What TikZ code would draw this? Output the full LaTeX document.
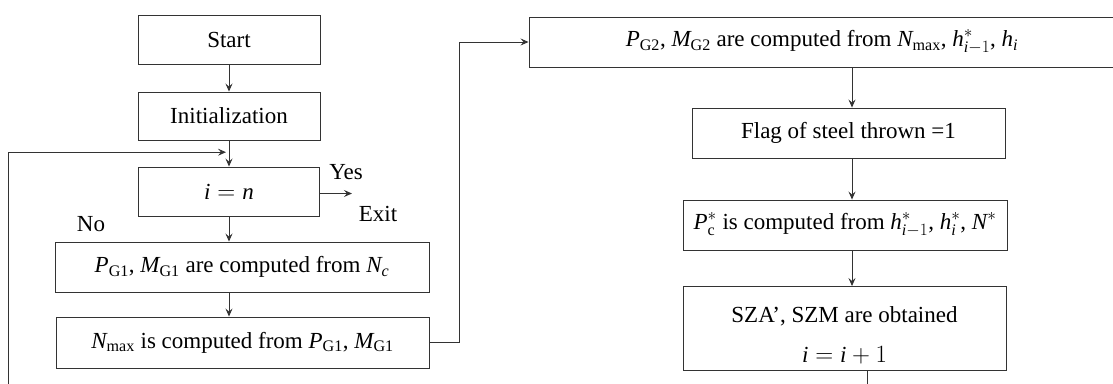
\documentclass[tikz,border=0pt]{standalone}
\usepackage{fontspec}
\setmainfont{Liberation Serif}
\usetikzlibrary{arrows.meta,calc}

\newcommand{\iv}[1]{\mathit{#1}}
\newcommand{\rs}[1]{_{\mathrm{#1}}}

\begin{document}
\begin{tikzpicture}[x=1pt,y=-1pt,
  every node/.style={font=\fontsize{23}{27}\selectfont, inner sep=0pt},
  stepbox/.style={draw=black!80, line width=0.9pt, align=center},
  line/.style={draw=black!80, line width=0.9pt},
  arr/.style={line, -{Stealth[length=8pt,width=7pt,inset=3pt]}}]
\useasboundingbox (0,0) rectangle (1113,383);

% left column
\node[stepbox, minimum width=182pt, minimum height=49pt] (start) at (229,39.5) {Start};
\node[stepbox, minimum width=182pt, minimum height=48pt] (init) at (229,116) {Initialization};
\node[stepbox, minimum width=181pt, minimum height=49pt] (isn) at (229,191.5) {$\iv{i}=\iv{n}$};
\node[stepbox, minimum width=374pt, minimum height=50pt] (pg1) at (242,267)
  {$\iv{P}\rs{G1}$, $\iv{M}\rs{G1}$ are computed from $\iv{N}_{\iv{c}}$};
\node[stepbox, minimum width=373pt, minimum height=51pt] (nmax) at (242.5,342.5)
  {$\iv{N}\rs{max}$ is computed from $\iv{P}\rs{G1}$, $\iv{M}\rs{G1}$};

% branch labels
\node (yes) at (346,172) {Yes};
\node (exit) at (378,214) {Exit};
\node (no) at (91,224) {No};

% right column
\node[stepbox, minimum width=586pt, minimum height=50pt] (pg2) at (822,42)
  {$\iv{P}\rs{G2}$, $\iv{M}\rs{G2}$ are computed from $\iv{N}\rs{max}$, $\iv{h}^{*}_{\iv{i}-1}$, $\iv{h}_{\iv{i}}$};
\node[stepbox, minimum width=313pt, minimum height=50pt] (flag) at (848.5,133) {Flag of steel thrown =1};
\node[stepbox, minimum width=324pt, minimum height=50pt] (pc) at (845,225)
  {$\iv{P}^{*}_{\mathrm{c}}$ is computed from $\iv{h}^{*}_{\iv{i}-1}$, $\iv{h}^{*}_{\iv{i}}$, $\iv{N}^{*}$};
\node[stepbox, minimum width=323pt, minimum height=81pt] (sza) at (844.5,328.5)
  {\raisebox{0pt}[\dimexpr\height+17pt\relax]{\begin{tabular}{@{}c@{}}SZA', SZM are obtained\\[13pt] $\iv{i}=\iv{i}+1$\end{tabular}}};

% helper points
\coordinate (merge) at ($(init.south)!0.45!(isn.north)$);
\coordinate (loopleft) at ([xshift=-221pt]merge);
\coordinate (exitpt) at ([xshift=32pt,yshift=-2pt]isn.east);
\coordinate (loopstart) at ([xshift=22.5pt]sza.south);
\coordinate (pg2out) at ([xshift=30pt]pg2.south);

% connectors
\draw[arr] (start) -- (init);
\draw[line] (init) -- (merge);
\draw[arr] (merge) -- (isn);
\draw[arr] ([yshift=-2pt]isn.east) -- (exitpt);
\draw[arr] (isn.south) -- (isn.south |- pg1.north);
\draw[arr] (isn.south |- pg1.south) -- (isn.south |- nmax.north);
\draw[arr] (nmax.east) -- ++(30,0) |- (pg2.west);
\draw[arr] (pg2out) -- (pg2out |- flag.north);
\draw[arr] (pg2out |- flag.south) -- (pg2out |- pc.north);
\draw[arr] (pg2out |- pc.south) -- (pg2out |- sza.north);
\draw[arr] (loopstart) -- ++(0,60) -| (loopleft) -- ([xshift=-3pt]merge);
\end{tikzpicture}
\end{document}
